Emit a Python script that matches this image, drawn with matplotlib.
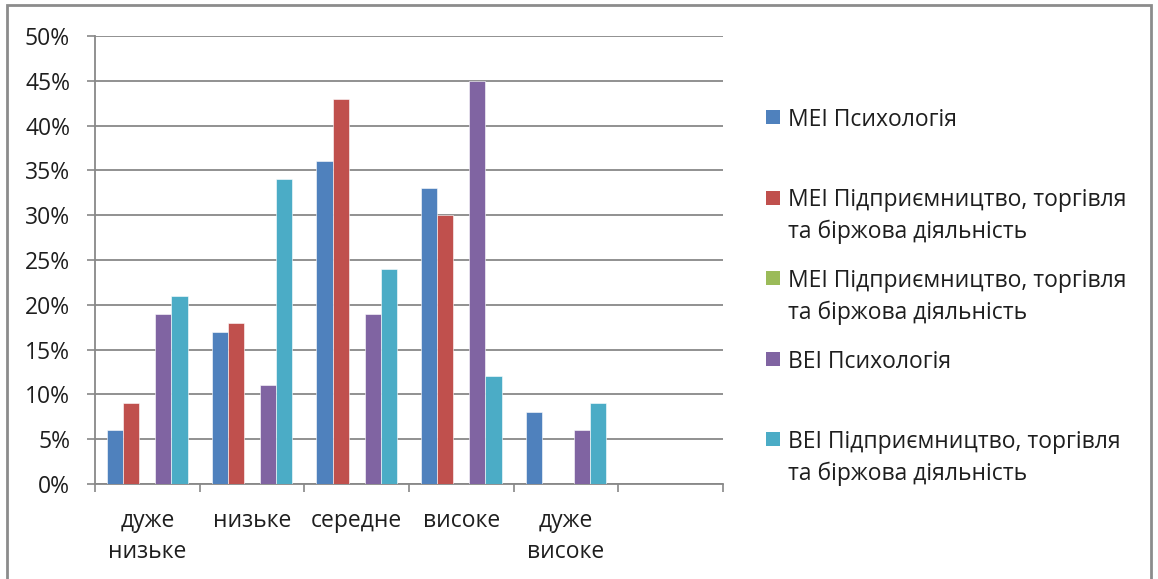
import matplotlib
matplotlib.use("Agg")
import matplotlib.pyplot as plt
from matplotlib.patches import Rectangle
import numpy as np

plt.rcParams['font.family'] = ['Open Sans', 'DejaVu Sans']

categories = ["дуже\nнизьке", "низьке", "середне", "високе", "дуже\nвисоке", ""]
series_names = [
    "МЕІ Психологія",
    "МЕІ Підприємництво, торгівля\nта біржова діяльність",
    "МЕІ Підприємництво, торгівля\nта біржова діяльність",
    "ВЕІ Психологія",
    "ВЕІ Підприємництво, торгівля\nта біржова діяльність",
]
mei_psy = [6, 17, 36, 33, 8]
mei_bus = [9, 18, 43, 30, 0]
mei_bus2 = [0, 0, 0, 0, 0]
vei_psy = [19, 11, 19, 45, 6]
vei_bus = [21, 34, 24, 12, 9]
series_values = [mei_psy, mei_bus, mei_bus2, vei_psy, vei_bus]
colors = ["#4F81BD", "#C0504D", "#9BBB59", "#8064A2", "#4BACC6"]
yticks = [0, 5, 10, 15, 20, 25, 30, 35, 40, 45, 50]

W, H = 1158, 579
FS = 16.5
TXT = "#1e1e1e"
fig = plt.figure(figsize=(W / 100, H / 100), dpi=100)
fig.patch.set_facecolor("white")

# chart frame
fig.add_artist(Rectangle((7 / W, -0.05), (1151 - 7) / W, (H - 5) / H + 0.05,
                         transform=fig.transFigure, fill=False,
                         edgecolor="#8c8c8c", linewidth=2.0))

ax = fig.add_axes([95 / W, 95 / H, (723 - 95) / W, (543 - 95) / H])
grid_c = "#888888"

n_series = len(series_values)
width = 1 / (n_series + 1.5)
for j, (vals, col) in enumerate(zip(series_values, colors)):
    x = np.arange(len(vals)) + 0.5 + (j - (n_series - 1) / 2) * width
    ax.bar(x, vals, width=width, color=col, edgecolor="white",
           linewidth=0.4, zorder=3)

ax.set_xlim(0, len(categories))
ax.set_ylim(0, 50)
ax.set_yticks(yticks)
ax.set_yticklabels([f"{v}%" for v in yticks], fontsize=FS, color=TXT)
ax.yaxis.grid(True, color=grid_c, linewidth=1.3, zorder=0)
ax.set_axisbelow(True)

ax.set_xticks(np.arange(len(categories)) + 0.5)
ax.set_xticklabels(categories, fontsize=FS, color=TXT, linespacing=1.4)
ax.set_xticks(np.arange(len(categories) + 1), minor=True)
ax.tick_params(axis="x", which="major", length=0, pad=18)
ax.tick_params(axis="x", which="minor", length=6, width=1.2, color=grid_c)
ax.tick_params(axis="y", length=6, width=1.2, color=grid_c, pad=12)

for side in ["top", "right"]:
    ax.spines[side].set_visible(False)
for side in ["left", "bottom"]:
    ax.spines[side].set_color(grid_c)
    ax.spines[side].set_linewidth(1.3)

# legend on the right
leg_x_box = 766
leg_x_text = 788
first_y = 117
step = 80.5
for j, (name, col) in enumerate(zip(series_names, colors)):
    yc = first_y + j * step
    fig.add_artist(Rectangle((leg_x_box / W, 1 - (yc + 7) / H), 14 / W, 14 / H,
                             transform=fig.transFigure, facecolor=col,
                             edgecolor="none"))
    fig.text(leg_x_text / W, 1 - (yc - 9) / H, name, fontsize=FS,
             color=TXT, va="top", ha="left", linespacing=1.4)

fig.savefig("out.png", dpi=100, facecolor="white")
